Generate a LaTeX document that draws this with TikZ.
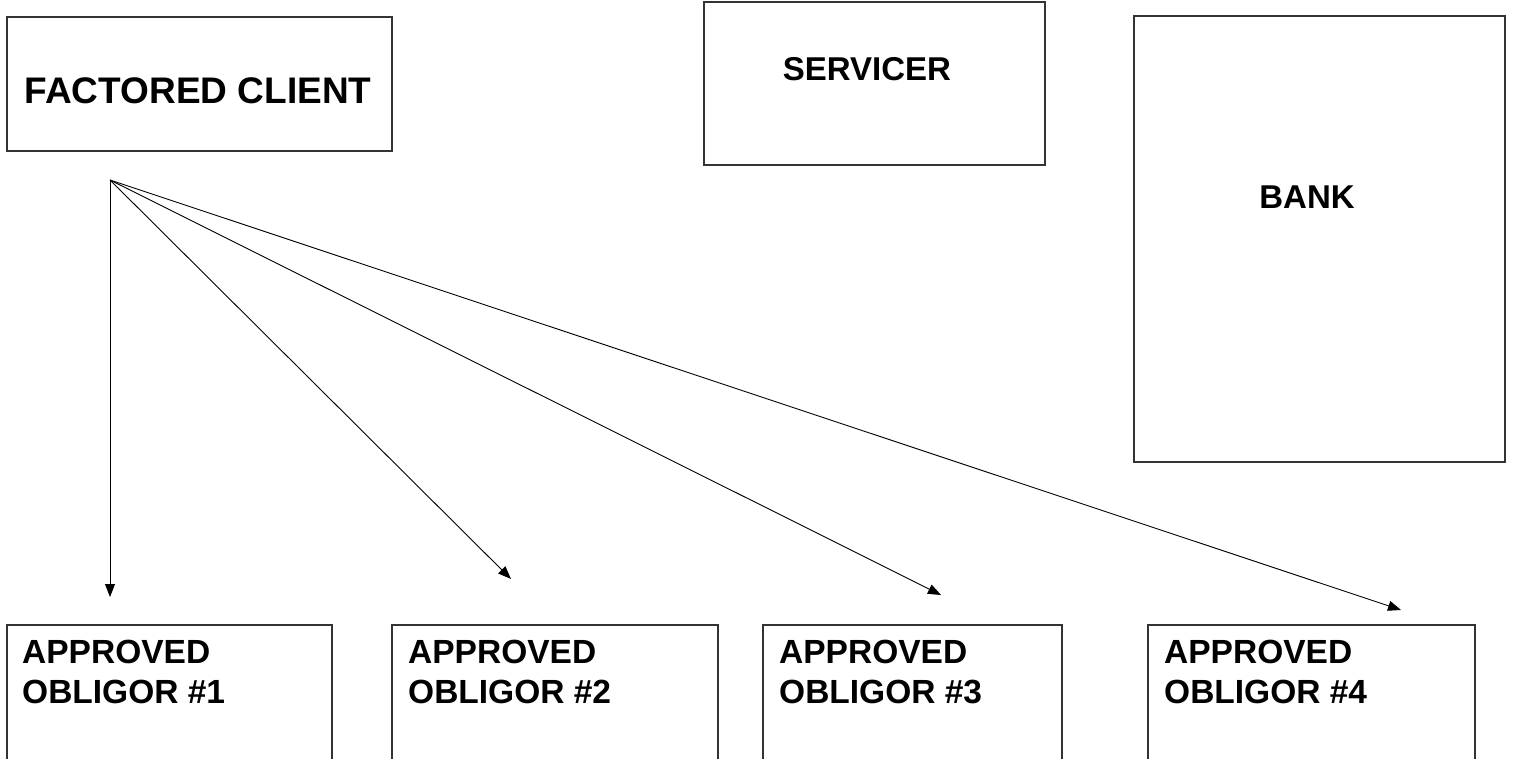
\documentclass[tikz,border=0pt]{standalone}
\usepackage{fontspec}
\setmainfont{Liberation Sans}
\usetikzlibrary{arrows.meta}
\begin{document}
\begin{tikzpicture}[x=1pt,y=-1pt,
  boxstyle/.style={draw=black!80,line width=1.3pt,inner sep=0pt},
  bigtext/.style={font=\fontsize{37}{40}\selectfont\bfseries,inner sep=0pt,anchor=base},
  midtext/.style={font=\fontsize{33}{40}\selectfont\bfseries,inner sep=0pt,anchor=base},
  obltext/.style={font=\fontsize{33.5}{40}\selectfont\bfseries,inner sep=0pt,anchor=base west,align=left},
  conn/.style={line width=0.9pt,-{Triangle[length=13pt,width=10pt]}}
]
\useasboundingbox (0,0) rectangle (1514,758);
\clip (0,0) rectangle (1514,758);
% boxes
\node[boxstyle,minimum width=385pt,minimum height=134pt] (fc) at (199.5,84) {};
\node[boxstyle,minimum width=341pt,minimum height=163pt] (sv) at (874.5,83.5) {};
\node[boxstyle,minimum width=371pt,minimum height=446pt] (bk) at (1319.5,239) {};
\node[boxstyle,minimum width=325pt,minimum height=200pt] (o1) at (169.5,725) {};
\node[boxstyle,minimum width=326pt,minimum height=200pt] (o2) at (555,725) {};
\node[boxstyle,minimum width=299pt,minimum height=200pt] (o3) at (912.5,725) {};
\node[boxstyle,minimum width=327pt,minimum height=200pt] (o4) at (1311.5,725) {};
% texts
\node[bigtext] (fct) at (198,103) {FACTORED CLIENT};
\node[midtext] (svt) at (867,80) {SERVICER};
\node[midtext] (bkt) at (1307,208) {BANK};
\node[obltext] (o1a) at (22,663) {APPROVED};
\node[obltext] (o1b) at (22,703) {OBLIGOR \#1};
\node[obltext] (o2a) at (408,663) {APPROVED};
\node[obltext] (o2b) at (408,703) {OBLIGOR \#2};
\node[obltext] (o3a) at (779,663) {APPROVED};
\node[obltext] (o3b) at (779,703) {OBLIGOR \#3};
\node[obltext] (o4a) at (1164,663) {APPROVED};
\node[obltext] (o4b) at (1164,703) {OBLIGOR \#4};
% connectors
\coordinate (src) at (110,180);
\coordinate (e1) at (110,597);
\coordinate (e2) at (511,579);
\coordinate (e3) at (941,595);
\coordinate (e4) at (1401,610);
\draw[conn] (src) -- (e1);
\draw[conn] (src) -- (e2);
\draw[conn] (src) -- (e3);
\draw[conn] (src) -- (e4);
\end{tikzpicture}
\end{document}
